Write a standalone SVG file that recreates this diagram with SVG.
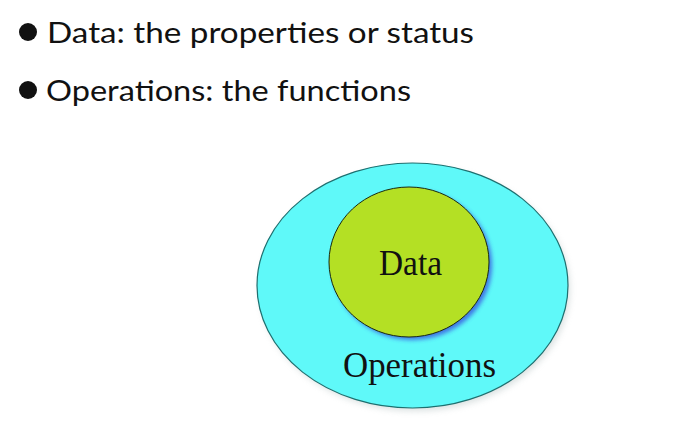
<svg xmlns="http://www.w3.org/2000/svg" width="688" height="429" viewBox="0 0 688 429">
<defs>
<style>
.bul{font-family:"Lato","Open Sans","Noto Sans",sans-serif;font-size:28px;fill:#111;}
.lbl{font-family:"Liberation Serif","Times New Roman",serif;font-size:35px;fill:#111;}
</style>
<filter id="blueShadow" x="-20%" y="-20%" width="150%" height="150%">
<feGaussianBlur stdDeviation="2"/>
</filter>
<filter id="softShadow" x="-10%" y="-10%" width="130%" height="130%">
<feGaussianBlur stdDeviation="3"/>
</filter>
</defs>
<rect width="688" height="429" fill="#ffffff"/>
<g id="bullet1">
<circle cx="28" cy="32" r="9" fill="#111"/>
<text class="bul" x="47" y="43" textLength="427" lengthAdjust="spacingAndGlyphs">Data: the properties or status</text>
</g>
<g id="bullet2">
<circle cx="28" cy="90" r="9" fill="#111"/>
<text class="bul" x="46" y="101" textLength="365" lengthAdjust="spacingAndGlyphs">Operations: the functions</text>
</g>
<g id="operations">
<ellipse cx="415" cy="289" rx="155" ry="122" fill="#9aa" opacity="0.35" filter="url(#softShadow)"/>
<ellipse cx="412.5" cy="285.5" rx="155.5" ry="122.5" fill="#5ff9f9" stroke="#1e6f6f" stroke-width="1.2"/>
<text class="lbl" x="343" y="377" textLength="153" lengthAdjust="spacingAndGlyphs">Operations</text>
</g>
<g id="data">
<ellipse cx="412" cy="265" rx="80" ry="75" fill="#3a5fe0" opacity="0.85" filter="url(#blueShadow)"/>
<ellipse cx="409" cy="262" rx="80" ry="75" fill="#b4e024" stroke="#1a2a10" stroke-width="1"/>
<text class="lbl" x="379" y="275" textLength="63" lengthAdjust="spacingAndGlyphs">Data</text>
</g>
<g id="connectors"></g>
</svg>
